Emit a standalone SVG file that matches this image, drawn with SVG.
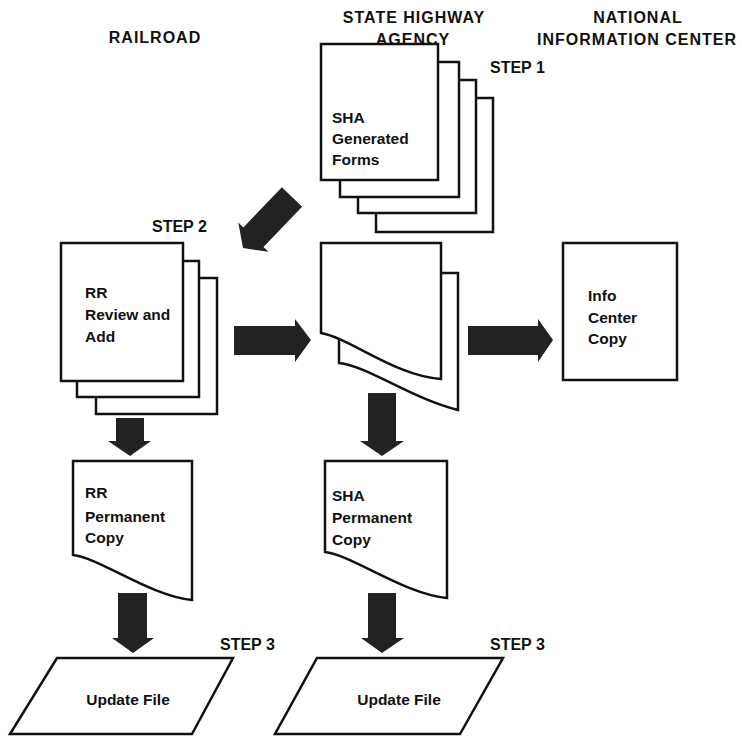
<svg xmlns="http://www.w3.org/2000/svg" width="742" height="736" viewBox="0 0 742 736">
<style>
.hdr{font-family:"Liberation Sans",Arial,sans-serif;font-weight:bold;font-size:16px;fill:#111;text-anchor:middle;letter-spacing:1px}
.step{font-family:"Liberation Sans",Arial,sans-serif;font-weight:bold;font-size:16px;fill:#111}
.lbl{font-family:"Liberation Sans",Arial,sans-serif;font-weight:bold;font-size:15.5px;fill:#111}
.mid{text-anchor:middle}
.sheet{fill:#fff;stroke:#111;stroke-width:2.5;stroke-linejoin:miter}
.arr{fill:#222}
</style>
<rect width="742" height="736" fill="#fff"/>
<g id="headers">
<text class="hdr" x="155" y="43">RAILROAD</text>
<text class="hdr" x="414" y="23">STATE HIGHWAY</text>
<text class="hdr" x="413" y="45">AGENCY</text>
<text class="hdr" x="638" y="23">NATIONAL</text>
<text class="hdr" x="637" y="45">INFORMATION CENTER</text>
</g>
<g id="sha-forms">
<rect class="sheet" x="376" y="98" width="117" height="134"/>
<rect class="sheet" x="358" y="80" width="118" height="133"/>
<rect class="sheet" x="340" y="62" width="119" height="135"/>
<rect class="sheet" x="321" y="44" width="117" height="136"/>
<text class="lbl" x="332" y="123">SHA</text>
<text class="lbl" x="332" y="144">Generated</text>
<text class="lbl" x="332" y="165">Forms</text>
<text class="step" x="490" y="73">STEP 1</text>
</g>
<g id="rr-review">
<rect class="sheet" x="96" y="278" width="121" height="136"/>
<rect class="sheet" x="77" y="261" width="122" height="136"/>
<rect class="sheet" x="61" y="243" width="122" height="138"/>
<text class="lbl" x="85" y="298">RR</text>
<text class="lbl" x="85" y="320">Review and</text>
<text class="lbl" x="85" y="342">Add</text>
<text class="step" x="152" y="232">STEP 2</text>
</g>
<g id="sha-copies">
<path class="sheet" d="M339,273 H458 V410 C410,398 368,366 339,363 Z"/>
<path class="sheet" d="M321,243 H441 V379 C395,376 350,338 321,333 Z"/>
</g>
<g id="info-center">
<rect class="sheet" x="563" y="243" width="114" height="137"/>
<text class="lbl" x="588" y="301">Info</text>
<text class="lbl" x="588" y="323">Center</text>
<text class="lbl" x="588" y="344">Copy</text>
</g>
<g id="rr-permanent">
<path class="sheet" d="M73,461 H192 V600 C150,596 100,558 73,555 Z"/>
<text class="lbl" x="85" y="498">RR</text>
<text class="lbl" x="85" y="522">Permanent</text>
<text class="lbl" x="85" y="543">Copy</text>
</g>
<g id="sha-permanent">
<path class="sheet" d="M325,461 H447 V598 C404,594 352,555 325,552 Z"/>
<text class="lbl" x="332" y="501">SHA</text>
<text class="lbl" x="332" y="523">Permanent</text>
<text class="lbl" x="332" y="545">Copy</text>
</g>
<g id="rr-update">
<polygon class="sheet" points="57,658 233,658 192,734 10,734"/>
<text class="lbl mid" x="128" y="705">Update File</text>
<text class="step" x="220" y="650">STEP 3</text>
</g>
<g id="sha-update">
<polygon class="sheet" points="317,658 503,658 460,734 275,734"/>
<text class="lbl mid" x="399" y="705">Update File</text>
<text class="step" x="490" y="650">STEP 3</text>
</g>
<g id="connectors">
<polygon class="arr" points="281.9,187.3 302.1,206.7 263.5,246.9 268.5,251.8 243,248 238.3,222.6 243.3,227.5"/>
<polygon class="arr" points="234,326 295,326 295,319 311,340 295,362 295,355 234,355"/>
<polygon class="arr" points="468,326 538,326 538,319 553,340 538,362 538,355 468,355"/>
<polygon class="arr" points="116,418 144,418 144,441 151,441 130,456 108,441 116,441"/>
<polygon class="arr" points="368,393 396,393 396,441 404,441 382,456 360,441 368,441"/>
<polygon class="arr" points="118,593 147,593 147,638 154,638 133,653 112,638 118,638"/>
<polygon class="arr" points="368,593 396,593 396,638 404,638 382,653 361,638 368,638"/>
</g>
</svg>
